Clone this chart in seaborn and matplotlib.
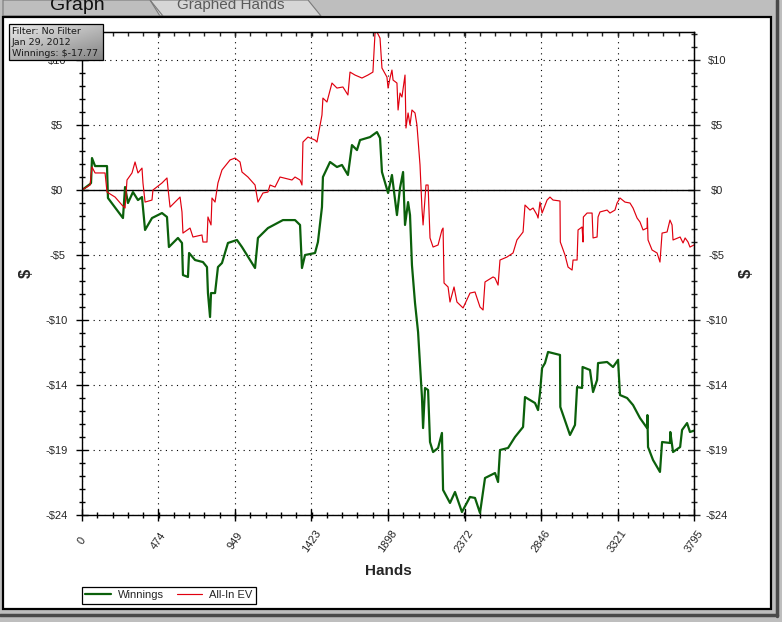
import numpy as np
import pandas as pd
import matplotlib
matplotlib.use("Agg")
import matplotlib.pyplot as plt
from matplotlib.patches import Rectangle, Polygon
from matplotlib.ticker import MultipleLocator
import seaborn as sns

# ---------------- data ----------------
win_hands = [0, 50, 56, 62, 81, 155, 161, 254, 267, 285,
             316, 347, 372, 391, 434, 496, 527, 539, 595, 620,
             626, 657, 664, 701, 750, 775, 781, 794, 800, 825,
             843, 868, 905, 961, 992, 1073, 1091, 1153, 1246, 1321,
             1352, 1364, 1383, 1445, 1463, 1488, 1494, 1538, 1581, 1612,
             1649, 1674, 1705, 1724, 1786, 1829, 1848, 1860, 1898, 1922,
             1953, 1972, 1991, 2003, 2022, 2034, 2046, 2065, 2084, 2108,
             2115, 2127, 2146, 2158, 2177, 2208, 2232, 2239, 2282, 2313,
             2356, 2406, 2437, 2468, 2499, 2561, 2580, 2592, 2642, 2685,
             2735, 2747, 2809, 2828, 2840, 2853, 2871, 2890, 2964, 2966,
             3026, 3057, 3070, 3101, 3104, 3150, 3169, 3194, 3200, 3256,
             3293, 3324, 3336, 3380, 3417, 3460, 3504, 3506, 3510, 3541,
             3584, 3597, 3646, 3648, 3665, 3709, 3721, 3752, 3770, 3795]
win_dollars = [0.00, 0.44, 0.52, 2.36, 1.77, 1.77, -0.59, -2.07, 0.22, -0.96,
               -0.15, -0.74, -0.52, -2.95, -2.07, -1.70, -1.99, -4.21, -3.54, -3.91,
               -6.28, -6.42, -4.65, -5.17, -5.32, -5.69, -7.61, -9.38, -7.61, -7.61,
               -5.69, -5.39, -3.91, -3.69, -4.21, -5.76, -3.54, -2.81, -2.22, -2.22,
               -2.58, -5.76, -4.80, -4.65, -3.84, -1.26, 0.96, 2.07, 1.70, 1.85,
               1.11, 3.32, 2.95, 3.69, 3.91, 4.28, 3.84, 1.33, -0.22, 1.11,
               -1.85, 0.15, 1.33, -2.58, -0.89, -1.85, -5.54, -8.34, -10.49, -15.29,
               -17.58, -14.62, -14.77, -18.61, -19.35, -19.05, -17.94, -22.15, -23.11, -22.30,
               -23.78, -22.67, -22.74, -23.85, -21.27, -20.90, -21.56, -19.20, -19.05, -18.24,
               -17.50, -15.29, -15.73, -16.25, -14.99, -13.14, -12.78, -11.96, -12.18, -16.02,
               -18.09, -17.35, -14.55, -14.62, -13.07, -13.29, -14.92, -14.03, -12.78, -12.70,
               -13.07, -12.55, -15.14, -15.36, -15.88, -16.84, -17.58, -16.62, -18.98, -19.94,
               -20.82, -18.61, -18.68, -17.87, -19.35, -18.98, -17.72, -17.21, -17.87, -17.77]

ev_hands = [0, 50, 62, 81, 143, 155, 205, 248, 267, 279,
            310, 329, 347, 372, 378, 391, 434, 440, 496, 527,
            533, 546, 577, 608, 620, 626, 670, 688, 744, 750,
            775, 781, 800, 806, 825, 843, 868, 918, 949, 980,
            992, 1029, 1073, 1091, 1122, 1153, 1166, 1197, 1228, 1302,
            1321, 1352, 1364, 1370, 1401, 1445, 1457, 1488, 1494, 1519,
            1550, 1581, 1618, 1649, 1662, 1693, 1736, 1773, 1804, 1817,
            1829, 1848, 1860, 1891, 1898, 1910, 1922, 1929, 1953, 1960,
            1972, 1984, 2003, 2009, 2022, 2034, 2046, 2065, 2077, 2096,
            2108, 2115, 2133, 2146, 2158, 2177, 2208, 2232, 2239, 2245,
            2270, 2282, 2307, 2325, 2363, 2406, 2437, 2468, 2487, 2499,
            2549, 2561, 2580, 2592, 2635, 2673, 2697, 2735, 2747, 2778,
            2797, 2822, 2828, 2840, 2853, 2884, 2902, 2921, 2964, 2966,
            2995, 3014, 3039, 3045, 3070, 3076, 3101, 3107, 3109, 3132,
            3163, 3169, 3194, 3200, 3212, 3256, 3274, 3305, 3318, 3336,
            3367, 3398, 3417, 3442, 3460, 3479, 3504, 3506, 3510, 3535,
            3566, 3584, 3597, 3628, 3646, 3659, 3665, 3696, 3709, 3727,
            3740, 3758, 3770, 3795]
ev_dollars = [0.00, 0.37, 1.70, 1.26, 1.26, -0.15, -0.52, -1.11, -1.33, 0.74,
              1.26, 2.07, 1.26, 1.62, 0.52, -0.89, -0.74, 0.00, 0.52, 0.89,
              0.15, -1.26, -0.89, -0.52, -1.62, -3.18, -2.81, -3.47, -3.32, -3.84,
              -3.84, -1.99, -2.58, -0.59, -0.89, 0.52, 1.48, 2.22, 2.36, 2.07,
              1.33, 0.96, 0.37, -0.89, -0.22, -0.15, 0.37, 0.22, 0.96, 0.74,
              0.96, 0.74, 0.37, 3.54, 3.91, 3.69, 3.54, 5.54, 6.79, 6.50,
              7.90, 7.53, 7.61, 7.02, 8.71, 8.49, 8.27, 8.49, 8.71, 11.59,
              11.67, 11.22, 9.01, 8.34, 7.53, 8.27, 8.86, 8.12, 7.90, 5.91,
              7.16, 6.87, 8.49, 4.58, 5.69, 4.80, 5.91, 5.69, 4.80, 1.85,
              -1.33, -2.58, 0.37, 0.37, -3.54, -4.21, -4.06, -2.95, -2.81, -6.87,
              -7.16, -8.27, -7.16, -8.27, -8.71, -7.61, -7.53, -8.64, -8.86, -6.79,
              -6.42, -6.50, -7.02, -5.17, -4.95, -4.65, -3.69, -3.10, -1.11, -1.48,
              -1.33, -1.85, -2.07, -0.89, -1.70, -0.74, -0.52, -0.74, -0.81, -3.84,
              -4.80, -5.69, -5.91, -5.17, -5.17, -2.95, -2.73, -3.84, -1.99, -1.70,
              -1.70, -3.54, -3.47, -1.99, -1.62, -1.48, -1.70, -1.48, -0.96, -0.59,
              -0.89, -0.96, -1.33, -2.07, -2.36, -2.95, -2.81, -2.07, -3.69, -4.43,
              -4.65, -5.32, -3.18, -3.10, -2.22, -2.58, -3.69, -3.54, -3.47, -3.91,
              -3.54, -3.84, -4.21, -4.06]

x_ticks = [0, 474, 949, 1423, 1898, 2372, 2846, 3321, 3795]
x_labels = ["0", "474", "949", "1423", "1898", "2372", "2846", "3321", "3795"]
y_ticks = [-24, -19.2, -14.4, -9.6, -4.8, 0, 4.8, 9.6]
y_labels = ["-$24", "-$19", "-$14", "-$10", "-$5", "$0", "$5", "$10"]

filter_lines = ["Filter: No Filter", "Jan 29, 2012", "Winnings: $-17.77"]

# ---------------- style ----------------
sns.set_style("white")
plt.rcParams["font.family"] = ["Liberation Sans", "DejaVu Sans"]

W, H = 782, 622
fig = plt.figure(figsize=(W / 100, H / 100), dpi=100)

# window chrome (pixel coordinates, y pointing down)
bg = fig.add_axes([0, 0, 1, 1], zorder=0)
bg.set_xlim(0, W)
bg.set_ylim(H, 0)
bg.axis("off")
bg.add_patch(Rectangle((0, 0), W, H, color="#bebebe"))
tab2 = Polygon([(150, 0), (308, 0), (321, 16), (160, 16)], closed=True,
               facecolor="#d6d6d6", edgecolor="#7a7a7a", linewidth=0.8)
bg.add_patch(tab2)
tab1 = Polygon([(3, 0), (150, 0), (163, 16), (3, 16)], closed=True,
               facecolor="none", edgecolor="#7a7a7a", linewidth=0.8)
bg.add_patch(tab1)
tab_grad = np.linspace(0.97, 0.82, 50).reshape(-1, 1)
im = bg.imshow(tab_grad, cmap="gray", vmin=0, vmax=1, extent=(3, 163, 16, 0),
               aspect="auto")
im.set_clip_path(tab1)
bg.text(50, 10, "Graph", fontsize=14, color="#101010", va="baseline")
bg.text(177, 9.5, "Graphed Hands", fontsize=11, color="#5a5a5a", va="baseline")
bg.add_patch(Rectangle((3, 17), 768, 592, facecolor="white",
                       edgecolor="black", linewidth=1.6))
bg.plot([777, 777], [0, 616], color="#4a4a4a", linewidth=2.5)
bg.plot([0, 777], [615, 615], color="#4a4a4a", linewidth=2.5)
bg.set_xlim(0, W)
bg.set_ylim(H, 0)

# ---------------- main chart ----------------
ax = fig.add_axes([82 / W, 1 - 515 / H, 612 / W, 483 / H], zorder=1)
ax.set_facecolor("white")

win_df = pd.DataFrame({"Hands": win_hands, "Dollars": win_dollars})
ev_df = pd.DataFrame({"Hands": ev_hands, "Dollars": ev_dollars})

sns.lineplot(data=win_df, x="Hands", y="Dollars", ax=ax, color="#0b600b",
             linewidth=1.6, estimator=None, sort=False, label="Winnings")
sns.lineplot(data=ev_df, x="Hands", y="Dollars", ax=ax, color="#e0000f",
             linewidth=0.85, estimator=None, sort=False, label="All-In EV")
ax.axhline(0, color="black", linewidth=1, zorder=1.5)

ax.set_xlim(0, 3795)
ax.set_ylim(-24, 11.67)

ax.set_xticks(x_ticks, labels=x_labels, rotation=55, ha="center", va="center")
ax.set_yticks(y_ticks, labels=y_labels, ha="center")
ax.xaxis.set_minor_locator(MultipleLocator(94.875))
ax.yaxis.set_minor_locator(MultipleLocator(0.96))
ax.tick_params(which="major", direction="inout", length=9, width=1,
               color="black", labelsize=8, bottom=True, left=True)
ax.tick_params(which="minor", direction="inout", length=5, width=1,
               color="black", bottom=True, left=True)
ax.tick_params(axis="x", which="major", pad=14)
ax.tick_params(axis="y", which="major", pad=13.5)

ax.grid(True, which="major", color="black", linestyle=(0, (1, 4)), linewidth=0.8)
ax.set_axisbelow(True)
for sp in ax.spines.values():
    sp.set_color("black")
    sp.set_linewidth(1)

ax.set_xlabel("Hands", fontsize=11, fontweight="bold", va="center")
ax.xaxis.set_label_coords(0.5, -(571 - 515) / 483)
ax.set_ylabel("$", fontsize=12, fontweight="bold", va="center")
ax.yaxis.set_label_coords(-(82 - 26.5) / 612, 0.5)

# right axis
sec = ax.secondary_yaxis("right")
sec.set_yticks(y_ticks, labels=y_labels, ha="center")
sec.yaxis.set_minor_locator(MultipleLocator(0.96))
sec.tick_params(which="major", direction="inout", length=9, width=1,
                labelsize=8, pad=12)
sec.tick_params(which="minor", direction="inout", length=5, width=1)
sec.spines["right"].set_color("black")
sec.set_ylabel("$", fontsize=12, fontweight="bold", va="center")
sec.yaxis.set_label_coords((746 - 82) / 612, 0.5, transform=ax.transAxes)

# top axis ticks
top = ax.secondary_xaxis("top")
top.set_xticks(x_ticks, labels=[])
top.xaxis.set_minor_locator(MultipleLocator(94.875))
top.tick_params(which="both", direction="in", length=3, width=1)
top.spines["top"].set_color("black")

leg = ax.legend(loc="upper left", bbox_to_anchor=(82 / W, 1 - 587 / H),
                bbox_transform=fig.transFigure, ncol=2, fontsize=8,
                frameon=True, fancybox=False, framealpha=1, edgecolor="black",
                borderaxespad=0, borderpad=0.3, handlelength=2.3,
                handletextpad=0.6, columnspacing=1.2)
leg.get_frame().set_linewidth(0.9)

# ---------------- filter box ----------------
ov = fig.add_axes([0, 0, 1, 1], zorder=3)
ov.set_xlim(0, W)
ov.set_ylim(H, 0)
ov.axis("off")
ov.patch.set_alpha(0)
yy, xx = np.mgrid[0:1:40j, 0:1:60j]
box_grad = 0.92 - 0.22 * yy - 0.18 * xx
ov.imshow(box_grad, cmap="gray", vmin=0, vmax=1, extent=(9, 103, 60, 24),
          aspect="auto", zorder=1)
ov.add_patch(Rectangle((9, 24), 94, 36, facecolor="none", edgecolor="black",
                       linewidth=0.9, zorder=2))
for i, line in enumerate(filter_lines):
    ov.text(12, 33.5 + i * 11.5, line, fontsize=6.8, family="DejaVu Sans",
            color="#1a1a1a", va="baseline", zorder=3)
ov.set_xlim(0, W)
ov.set_ylim(H, 0)

fig.savefig("out.png", dpi=100)
